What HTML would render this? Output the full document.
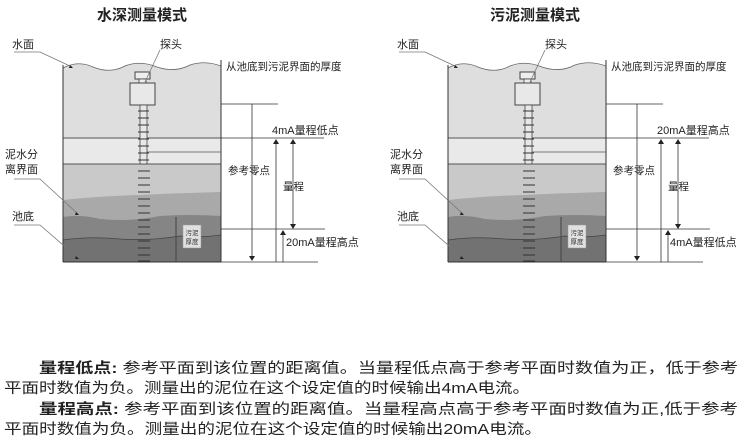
<!DOCTYPE html>
<html><head><meta charset="utf-8"><style>
html,body{margin:0;padding:0;background:#fff;}
svg{display:block;font-family:"Liberation Sans","Noto Sans CJK SC",sans-serif;}
</style></head><body>
<svg width="750" height="445" viewBox="0 0 750 445" xmlns="http://www.w3.org/2000/svg">
<defs>
<g id="tank">
  <path d="M63,68 Q78,60 93,67 Q110,74 125,66 Q140,60 157,67 Q175,73 190,65 Q205,60 221,66 L221,262 L63,262 Z" fill="#dedede"/>
  <rect x="63" y="138" width="158" height="26" fill="#e9e9e9"/>
  <rect x="63" y="164" width="158" height="36" fill="#c9c9c9"/>
  <path d="M63,200 Q100,196 140,195 Q180,193 221,192 L221,262 L63,262 Z" fill="#a9a9a9"/>
  <path d="M63,217 Q80,214 100,219 Q130,222 160,216 Q190,214 221,216 L221,262 L63,262 Z" fill="#858585"/>
  <path d="M63,240 Q90,236 120,239 Q150,241 180,236 Q200,238 221,235 L221,262 L63,262 Z" fill="#727272"/>
  <path d="M63,240 Q90,236 120,239 Q150,241 180,236 Q200,238 221,235" fill="none" stroke="#444" stroke-width="0.8"/>
  <path d="M63,68 Q78,60 93,67 Q110,74 125,66 Q140,60 157,67 Q175,73 190,65 Q205,60 221,66" fill="none" stroke="#666" stroke-width="0.8"/>
  <line x1="63" y1="138" x2="221" y2="138" stroke="#555" stroke-width="1"/>
  <line x1="63" y1="164" x2="221" y2="164" stroke="#555" stroke-width="1"/>
  <line x1="63" y1="65" x2="63" y2="262" stroke="#333" stroke-width="1"/>
  <line x1="221" y1="60" x2="221" y2="262" stroke="#333" stroke-width="1"/>
  <line x1="63" y1="262" x2="221" y2="262" stroke="#333" stroke-width="1"/>
  <line x1="176" y1="217" x2="176" y2="262" stroke="#444" stroke-width="1"/>
  <rect x="183" y="225" width="18" height="23" fill="#e0e0e0" stroke="#999" stroke-width="0.5"/>
  <text x="192" y="235" font-size="6.5" text-anchor="middle" fill="#333">污泥</text>
  <text x="192" y="244" font-size="6.5" text-anchor="middle" fill="#333">厚度</text>
  <rect x="135" y="72" width="15" height="7" fill="#eee" stroke="#444" stroke-width="1"/>
  <rect x="139" y="79" width="7" height="4" fill="#eee" stroke="#444" stroke-width="0.8"/>
  <rect x="130" y="83" width="25" height="22" fill="#e8e8e8" stroke="#444" stroke-width="1"/>
  <rect x="140" y="105" width="7" height="59" fill="#e8e8e8" stroke="#444" stroke-width="0.8"/>
  <g stroke="#333" stroke-width="1">
    <line x1="138" y1="111" x2="149" y2="111"/><line x1="138" y1="118" x2="149" y2="118"/><line x1="138" y1="125" x2="149" y2="125"/><line x1="138" y1="132" x2="149" y2="132"/><line x1="138" y1="139" x2="149" y2="139"/><line x1="138" y1="146" x2="149" y2="146"/><line x1="138" y1="153" x2="149" y2="153"/><line x1="138" y1="160" x2="149" y2="160"/>
    <line x1="138" y1="171" x2="150" y2="171"/><line x1="138" y1="178" x2="150" y2="178"/><line x1="138" y1="185" x2="150" y2="185"/><line x1="138" y1="192" x2="150" y2="192"/><line x1="138" y1="199" x2="150" y2="199"/><line x1="138" y1="206" x2="150" y2="206"/><line x1="138" y1="213" x2="150" y2="213"/><line x1="138" y1="220" x2="150" y2="220"/><line x1="138" y1="227" x2="150" y2="227"/><line x1="138" y1="234" x2="150" y2="234"/><line x1="138" y1="241" x2="150" y2="241"/><line x1="138" y1="248" x2="150" y2="248"/><line x1="138" y1="255" x2="150" y2="255"/><line x1="138" y1="261" x2="150" y2="261"/>
  </g>
  <line x1="147" y1="152" x2="221" y2="152" stroke="#555" stroke-width="0.8"/>
  <g stroke="#777" stroke-width="0.8" fill="none">
    <path d="M14,52 L40,52 L72,67"/>
    <path d="M160,50 L145,82"/>
    <path d="M14,179 L40,179 L78,214"/>
    <path d="M14,225 L40,225 L78,258"/>
  </g>
  <path d="M70,65 l3,3 l-4,0z" fill="#222"/>
  <path d="M76,212 l3,3 l-4,0z" fill="#222"/>
  <path d="M76,256 l3,3 l-4,0z" fill="#222"/>
  <g font-size="11" fill="#222">
    <text x="12" y="48">水面</text>
    <text x="160" y="48">探头</text>
    <text x="5" y="158">泥水分</text>
    <text x="5" y="173">离界面</text>
    <text x="12" y="220">池底</text>
    <text x="226" y="70" font-size="10.5">从池底到污泥界面的厚度</text>
    <text x="228" y="174" font-size="10.5">参考零点</text>
    <text x="283" y="190" font-size="10.5">量程</text>
  </g>
  <g stroke="#333" stroke-width="0.8">
    <line x1="221" y1="104" x2="278" y2="104"/>
    <line x1="221" y1="138" x2="324" y2="138"/>
    <line x1="221" y1="229" x2="325" y2="229"/>
    <line x1="221" y1="262" x2="318" y2="262"/>
    <line x1="252" y1="104" x2="252" y2="256"/>
    <line x1="276" y1="262" x2="276" y2="143"/>
    <line x1="293" y1="143" x2="293" y2="224"/>
    <line x1="283" y1="262" x2="283" y2="234"/>
  </g>
  <path d="M249,256 l6,0 l-3,5z" fill="#222"/>
  <path d="M273,144 l6,0 l-3,-5z" fill="#222"/>
  <path d="M290,144 l6,0 l-3,-5z" fill="#222"/>
  <path d="M290,224 l6,0 l-3,5z" fill="#222"/>
  <path d="M280,235 l6,0 l-3,-5z" fill="#222"/>
</g>
</defs>

<text x="142" y="20" font-size="15" font-weight="bold" text-anchor="middle" fill="#222">水深测量模式</text>
<use href="#tank"/>
<text x="272" y="134" font-size="11" fill="#222">4mA量程低点</text>
<text x="286" y="246" font-size="11" fill="#222">20mA量程高点</text>

<g transform="translate(385,0)">
<use href="#tank"/>
</g>
<text x="535" y="20" font-size="15" font-weight="bold" text-anchor="middle" fill="#222">污泥测量模式</text>
<text x="657" y="134" font-size="11" fill="#222">20mA量程高点</text>
<text x="670" y="246" font-size="11" fill="#222">4mA量程低点</text>

<g font-size="14.5" fill="#222">
  <text x="39" y="373" textLength="699" lengthAdjust="spacingAndGlyphs"><tspan font-weight="bold">量程低点:</tspan> 参考平面到该位置的距离值。当量程低点高于参考平面时数值为正，低于参考</text>
  <text x="4" y="393" textLength="526" lengthAdjust="spacingAndGlyphs">平面时数值为负。测量出的泥位在这个设定值的时候输出4mA电流。</text>
  <text x="39" y="414" textLength="699" lengthAdjust="spacingAndGlyphs"><tspan font-weight="bold">量程高点:</tspan> 参考平面到该位置的距离值。当量程高点高于参考平面时数值为正,低于参考</text>
  <text x="4" y="434" textLength="538" lengthAdjust="spacingAndGlyphs">平面时数值为负。测量出的泥位在这个设定值的时候输出20mA电流。</text>
</g>
</svg>
</body></html>
